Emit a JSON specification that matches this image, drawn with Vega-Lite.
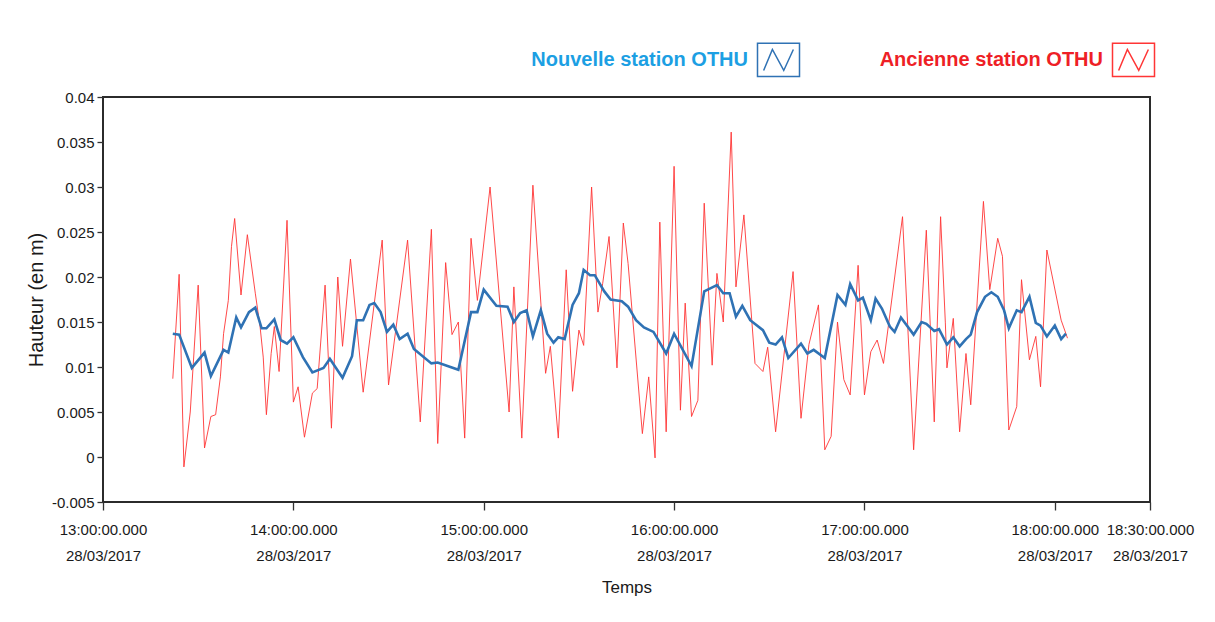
{
  "$schema": "https://vega.github.io/schema/vega-lite/v6.json",
  "width": 1047,
  "height": 405,
  "autosize": {"type": "none"},
  "padding": {"left": 103, "top": 97, "right": 65, "bottom": 120},
  "background": "white",
  "config": {
    "view": {"stroke": "#2b2b2b", "strokeWidth": 2},
    "font": "Liberation Sans, sans-serif"
  },
  "datasets": {
    "ancienne": [
      {"t": "2017-03-28T13:22:00Z", "s": "Ancienne station OTHU", "h": 0.0087},
      {"t": "2017-03-28T13:24:00Z", "s": "Ancienne station OTHU", "h": 0.0203},
      {"t": "2017-03-28T13:25:30Z", "s": "Ancienne station OTHU", "h": -0.0011},
      {"t": "2017-03-28T13:27:30Z", "s": "Ancienne station OTHU", "h": 0.005},
      {"t": "2017-03-28T13:30:00Z", "s": "Ancienne station OTHU", "h": 0.0191},
      {"t": "2017-03-28T13:32:00Z", "s": "Ancienne station OTHU", "h": 0.001},
      {"t": "2017-03-28T13:34:00Z", "s": "Ancienne station OTHU", "h": 0.0045},
      {"t": "2017-03-28T13:35:30Z", "s": "Ancienne station OTHU", "h": 0.0047},
      {"t": "2017-03-28T13:37:00Z", "s": "Ancienne station OTHU", "h": 0.0089},
      {"t": "2017-03-28T13:38:00Z", "s": "Ancienne station OTHU", "h": 0.0137},
      {"t": "2017-03-28T13:39:30Z", "s": "Ancienne station OTHU", "h": 0.0174},
      {"t": "2017-03-28T13:40:30Z", "s": "Ancienne station OTHU", "h": 0.0234},
      {"t": "2017-03-28T13:41:30Z", "s": "Ancienne station OTHU", "h": 0.0265},
      {"t": "2017-03-28T13:43:30Z", "s": "Ancienne station OTHU", "h": 0.018},
      {"t": "2017-03-28T13:45:30Z", "s": "Ancienne station OTHU", "h": 0.0247},
      {"t": "2017-03-28T13:48:00Z", "s": "Ancienne station OTHU", "h": 0.0182},
      {"t": "2017-03-28T13:49:30Z", "s": "Ancienne station OTHU", "h": 0.0145},
      {"t": "2017-03-28T13:50:30Z", "s": "Ancienne station OTHU", "h": 0.0111},
      {"t": "2017-03-28T13:51:30Z", "s": "Ancienne station OTHU", "h": 0.0047},
      {"t": "2017-03-28T13:53:00Z", "s": "Ancienne station OTHU", "h": 0.0115},
      {"t": "2017-03-28T13:54:00Z", "s": "Ancienne station OTHU", "h": 0.0145},
      {"t": "2017-03-28T13:55:30Z", "s": "Ancienne station OTHU", "h": 0.0095},
      {"t": "2017-03-28T13:58:00Z", "s": "Ancienne station OTHU", "h": 0.0263},
      {"t": "2017-03-28T14:00:00Z", "s": "Ancienne station OTHU", "h": 0.0061},
      {"t": "2017-03-28T14:01:30Z", "s": "Ancienne station OTHU", "h": 0.0078},
      {"t": "2017-03-28T14:03:30Z", "s": "Ancienne station OTHU", "h": 0.0022},
      {"t": "2017-03-28T14:06:00Z", "s": "Ancienne station OTHU", "h": 0.0071},
      {"t": "2017-03-28T14:07:30Z", "s": "Ancienne station OTHU", "h": 0.0076},
      {"t": "2017-03-28T14:10:00Z", "s": "Ancienne station OTHU", "h": 0.0191},
      {"t": "2017-03-28T14:12:00Z", "s": "Ancienne station OTHU", "h": 0.0032},
      {"t": "2017-03-28T14:14:00Z", "s": "Ancienne station OTHU", "h": 0.02},
      {"t": "2017-03-28T14:15:30Z", "s": "Ancienne station OTHU", "h": 0.0123},
      {"t": "2017-03-28T14:18:00Z", "s": "Ancienne station OTHU", "h": 0.022},
      {"t": "2017-03-28T14:22:00Z", "s": "Ancienne station OTHU", "h": 0.0072},
      {"t": "2017-03-28T14:28:00Z", "s": "Ancienne station OTHU", "h": 0.0241},
      {"t": "2017-03-28T14:30:00Z", "s": "Ancienne station OTHU", "h": 0.008},
      {"t": "2017-03-28T14:36:00Z", "s": "Ancienne station OTHU", "h": 0.0241},
      {"t": "2017-03-28T14:40:00Z", "s": "Ancienne station OTHU", "h": 0.0039},
      {"t": "2017-03-28T14:43:30Z", "s": "Ancienne station OTHU", "h": 0.0253},
      {"t": "2017-03-28T14:45:30Z", "s": "Ancienne station OTHU", "h": 0.0015},
      {"t": "2017-03-28T14:48:00Z", "s": "Ancienne station OTHU", "h": 0.0216},
      {"t": "2017-03-28T14:50:00Z", "s": "Ancienne station OTHU", "h": 0.0136},
      {"t": "2017-03-28T14:52:00Z", "s": "Ancienne station OTHU", "h": 0.015},
      {"t": "2017-03-28T14:54:00Z", "s": "Ancienne station OTHU", "h": 0.0021},
      {"t": "2017-03-28T14:56:00Z", "s": "Ancienne station OTHU", "h": 0.0243},
      {"t": "2017-03-28T14:58:00Z", "s": "Ancienne station OTHU", "h": 0.0174},
      {"t": "2017-03-28T15:02:00Z", "s": "Ancienne station OTHU", "h": 0.03},
      {"t": "2017-03-28T15:08:00Z", "s": "Ancienne station OTHU", "h": 0.005},
      {"t": "2017-03-28T15:09:30Z", "s": "Ancienne station OTHU", "h": 0.0189},
      {"t": "2017-03-28T15:12:00Z", "s": "Ancienne station OTHU", "h": 0.0021},
      {"t": "2017-03-28T15:15:30Z", "s": "Ancienne station OTHU", "h": 0.0302},
      {"t": "2017-03-28T15:19:30Z", "s": "Ancienne station OTHU", "h": 0.0093},
      {"t": "2017-03-28T15:21:00Z", "s": "Ancienne station OTHU", "h": 0.0123},
      {"t": "2017-03-28T15:23:30Z", "s": "Ancienne station OTHU", "h": 0.0021},
      {"t": "2017-03-28T15:26:00Z", "s": "Ancienne station OTHU", "h": 0.0208},
      {"t": "2017-03-28T15:28:00Z", "s": "Ancienne station OTHU", "h": 0.0073},
      {"t": "2017-03-28T15:30:00Z", "s": "Ancienne station OTHU", "h": 0.0141},
      {"t": "2017-03-28T15:31:30Z", "s": "Ancienne station OTHU", "h": 0.0124},
      {"t": "2017-03-28T15:34:00Z", "s": "Ancienne station OTHU", "h": 0.03},
      {"t": "2017-03-28T15:36:00Z", "s": "Ancienne station OTHU", "h": 0.0161},
      {"t": "2017-03-28T15:37:30Z", "s": "Ancienne station OTHU", "h": 0.0193},
      {"t": "2017-03-28T15:39:30Z", "s": "Ancienne station OTHU", "h": 0.0245},
      {"t": "2017-03-28T15:42:00Z", "s": "Ancienne station OTHU", "h": 0.0099},
      {"t": "2017-03-28T15:44:00Z", "s": "Ancienne station OTHU", "h": 0.026},
      {"t": "2017-03-28T15:45:30Z", "s": "Ancienne station OTHU", "h": 0.0215},
      {"t": "2017-03-28T15:50:00Z", "s": "Ancienne station OTHU", "h": 0.0026},
      {"t": "2017-03-28T15:52:00Z", "s": "Ancienne station OTHU", "h": 0.0089},
      {"t": "2017-03-28T15:54:00Z", "s": "Ancienne station OTHU", "h": -0.0001},
      {"t": "2017-03-28T15:55:30Z", "s": "Ancienne station OTHU", "h": 0.0261},
      {"t": "2017-03-28T15:57:30Z", "s": "Ancienne station OTHU", "h": 0.0028},
      {"t": "2017-03-28T16:00:00Z", "s": "Ancienne station OTHU", "h": 0.0323},
      {"t": "2017-03-28T16:02:00Z", "s": "Ancienne station OTHU", "h": 0.0052},
      {"t": "2017-03-28T16:03:30Z", "s": "Ancienne station OTHU", "h": 0.0171},
      {"t": "2017-03-28T16:05:30Z", "s": "Ancienne station OTHU", "h": 0.0045},
      {"t": "2017-03-28T16:07:30Z", "s": "Ancienne station OTHU", "h": 0.0063},
      {"t": "2017-03-28T16:09:30Z", "s": "Ancienne station OTHU", "h": 0.0282},
      {"t": "2017-03-28T16:12:00Z", "s": "Ancienne station OTHU", "h": 0.0102},
      {"t": "2017-03-28T16:13:30Z", "s": "Ancienne station OTHU", "h": 0.0204},
      {"t": "2017-03-28T16:15:30Z", "s": "Ancienne station OTHU", "h": 0.015},
      {"t": "2017-03-28T16:18:00Z", "s": "Ancienne station OTHU", "h": 0.0361},
      {"t": "2017-03-28T16:19:30Z", "s": "Ancienne station OTHU", "h": 0.0189},
      {"t": "2017-03-28T16:22:00Z", "s": "Ancienne station OTHU", "h": 0.0269},
      {"t": "2017-03-28T16:25:30Z", "s": "Ancienne station OTHU", "h": 0.0104},
      {"t": "2017-03-28T16:28:00Z", "s": "Ancienne station OTHU", "h": 0.0095},
      {"t": "2017-03-28T16:29:30Z", "s": "Ancienne station OTHU", "h": 0.0122},
      {"t": "2017-03-28T16:32:00Z", "s": "Ancienne station OTHU", "h": 0.0028},
      {"t": "2017-03-28T16:37:30Z", "s": "Ancienne station OTHU", "h": 0.0206},
      {"t": "2017-03-28T16:40:00Z", "s": "Ancienne station OTHU", "h": 0.0043},
      {"t": "2017-03-28T16:42:30Z", "s": "Ancienne station OTHU", "h": 0.0125},
      {"t": "2017-03-28T16:45:30Z", "s": "Ancienne station OTHU", "h": 0.0169},
      {"t": "2017-03-28T16:47:30Z", "s": "Ancienne station OTHU", "h": 0.0008},
      {"t": "2017-03-28T16:49:30Z", "s": "Ancienne station OTHU", "h": 0.0023},
      {"t": "2017-03-28T16:51:30Z", "s": "Ancienne station OTHU", "h": 0.015},
      {"t": "2017-03-28T16:53:30Z", "s": "Ancienne station OTHU", "h": 0.0086},
      {"t": "2017-03-28T16:55:30Z", "s": "Ancienne station OTHU", "h": 0.0069},
      {"t": "2017-03-28T16:58:00Z", "s": "Ancienne station OTHU", "h": 0.0213},
      {"t": "2017-03-28T17:00:00Z", "s": "Ancienne station OTHU", "h": 0.0069},
      {"t": "2017-03-28T17:02:00Z", "s": "Ancienne station OTHU", "h": 0.0117},
      {"t": "2017-03-28T17:04:00Z", "s": "Ancienne station OTHU", "h": 0.013},
      {"t": "2017-03-28T17:06:00Z", "s": "Ancienne station OTHU", "h": 0.0104},
      {"t": "2017-03-28T17:12:00Z", "s": "Ancienne station OTHU", "h": 0.0267},
      {"t": "2017-03-28T17:15:30Z", "s": "Ancienne station OTHU", "h": 0.0008},
      {"t": "2017-03-28T17:19:30Z", "s": "Ancienne station OTHU", "h": 0.0252},
      {"t": "2017-03-28T17:22:00Z", "s": "Ancienne station OTHU", "h": 0.0039},
      {"t": "2017-03-28T17:24:00Z", "s": "Ancienne station OTHU", "h": 0.0267},
      {"t": "2017-03-28T17:25:30Z", "s": "Ancienne station OTHU", "h": 0.0149},
      {"t": "2017-03-28T17:26:00Z", "s": "Ancienne station OTHU", "h": 0.0099},
      {"t": "2017-03-28T17:28:00Z", "s": "Ancienne station OTHU", "h": 0.0154},
      {"t": "2017-03-28T17:30:00Z", "s": "Ancienne station OTHU", "h": 0.0028},
      {"t": "2017-03-28T17:32:00Z", "s": "Ancienne station OTHU", "h": 0.0115},
      {"t": "2017-03-28T17:33:30Z", "s": "Ancienne station OTHU", "h": 0.0058},
      {"t": "2017-03-28T17:37:30Z", "s": "Ancienne station OTHU", "h": 0.0284},
      {"t": "2017-03-28T17:39:30Z", "s": "Ancienne station OTHU", "h": 0.0186},
      {"t": "2017-03-28T17:42:00Z", "s": "Ancienne station OTHU", "h": 0.0243},
      {"t": "2017-03-28T17:43:30Z", "s": "Ancienne station OTHU", "h": 0.0223},
      {"t": "2017-03-28T17:45:30Z", "s": "Ancienne station OTHU", "h": 0.003},
      {"t": "2017-03-28T17:48:00Z", "s": "Ancienne station OTHU", "h": 0.0056},
      {"t": "2017-03-28T17:49:30Z", "s": "Ancienne station OTHU", "h": 0.0197},
      {"t": "2017-03-28T17:52:00Z", "s": "Ancienne station OTHU", "h": 0.0108},
      {"t": "2017-03-28T17:54:00Z", "s": "Ancienne station OTHU", "h": 0.0134},
      {"t": "2017-03-28T17:55:30Z", "s": "Ancienne station OTHU", "h": 0.0078},
      {"t": "2017-03-28T17:57:30Z", "s": "Ancienne station OTHU", "h": 0.023},
      {"t": "2017-03-28T18:02:00Z", "s": "Ancienne station OTHU", "h": 0.0152},
      {"t": "2017-03-28T18:04:00Z", "s": "Ancienne station OTHU", "h": 0.0132}
    ],
    "nouvelle": [
      {"t": "2017-03-28T13:22:00Z", "s": "Nouvelle station OTHU", "h": 0.0137},
      {"t": "2017-03-28T13:24:00Z", "s": "Nouvelle station OTHU", "h": 0.0136},
      {"t": "2017-03-28T13:28:00Z", "s": "Nouvelle station OTHU", "h": 0.0099},
      {"t": "2017-03-28T13:32:00Z", "s": "Nouvelle station OTHU", "h": 0.0116},
      {"t": "2017-03-28T13:34:00Z", "s": "Nouvelle station OTHU", "h": 0.009},
      {"t": "2017-03-28T13:38:00Z", "s": "Nouvelle station OTHU", "h": 0.0119},
      {"t": "2017-03-28T13:39:30Z", "s": "Nouvelle station OTHU", "h": 0.0116},
      {"t": "2017-03-28T13:42:00Z", "s": "Nouvelle station OTHU", "h": 0.0155},
      {"t": "2017-03-28T13:43:30Z", "s": "Nouvelle station OTHU", "h": 0.0144},
      {"t": "2017-03-28T13:46:00Z", "s": "Nouvelle station OTHU", "h": 0.0161},
      {"t": "2017-03-28T13:48:00Z", "s": "Nouvelle station OTHU", "h": 0.0166},
      {"t": "2017-03-28T13:50:00Z", "s": "Nouvelle station OTHU", "h": 0.0143},
      {"t": "2017-03-28T13:51:30Z", "s": "Nouvelle station OTHU", "h": 0.0143},
      {"t": "2017-03-28T13:54:00Z", "s": "Nouvelle station OTHU", "h": 0.0153},
      {"t": "2017-03-28T13:56:00Z", "s": "Nouvelle station OTHU", "h": 0.013},
      {"t": "2017-03-28T13:58:00Z", "s": "Nouvelle station OTHU", "h": 0.0126},
      {"t": "2017-03-28T14:00:00Z", "s": "Nouvelle station OTHU", "h": 0.0133},
      {"t": "2017-03-28T14:03:00Z", "s": "Nouvelle station OTHU", "h": 0.0111},
      {"t": "2017-03-28T14:06:00Z", "s": "Nouvelle station OTHU", "h": 0.0094},
      {"t": "2017-03-28T14:09:30Z", "s": "Nouvelle station OTHU", "h": 0.0099},
      {"t": "2017-03-28T14:11:30Z", "s": "Nouvelle station OTHU", "h": 0.0109},
      {"t": "2017-03-28T14:15:30Z", "s": "Nouvelle station OTHU", "h": 0.0088},
      {"t": "2017-03-28T14:18:30Z", "s": "Nouvelle station OTHU", "h": 0.0112},
      {"t": "2017-03-28T14:20:00Z", "s": "Nouvelle station OTHU", "h": 0.0152},
      {"t": "2017-03-28T14:22:00Z", "s": "Nouvelle station OTHU", "h": 0.0152},
      {"t": "2017-03-28T14:24:00Z", "s": "Nouvelle station OTHU", "h": 0.0169},
      {"t": "2017-03-28T14:25:30Z", "s": "Nouvelle station OTHU", "h": 0.0171},
      {"t": "2017-03-28T14:27:30Z", "s": "Nouvelle station OTHU", "h": 0.0161},
      {"t": "2017-03-28T14:29:30Z", "s": "Nouvelle station OTHU", "h": 0.0139},
      {"t": "2017-03-28T14:31:30Z", "s": "Nouvelle station OTHU", "h": 0.0147},
      {"t": "2017-03-28T14:33:30Z", "s": "Nouvelle station OTHU", "h": 0.0131},
      {"t": "2017-03-28T14:36:00Z", "s": "Nouvelle station OTHU", "h": 0.0137},
      {"t": "2017-03-28T14:38:00Z", "s": "Nouvelle station OTHU", "h": 0.012},
      {"t": "2017-03-28T14:43:30Z", "s": "Nouvelle station OTHU", "h": 0.0104},
      {"t": "2017-03-28T14:45:30Z", "s": "Nouvelle station OTHU", "h": 0.0105},
      {"t": "2017-03-28T14:49:30Z", "s": "Nouvelle station OTHU", "h": 0.01},
      {"t": "2017-03-28T14:52:00Z", "s": "Nouvelle station OTHU", "h": 0.0097},
      {"t": "2017-03-28T14:56:00Z", "s": "Nouvelle station OTHU", "h": 0.0161},
      {"t": "2017-03-28T14:58:00Z", "s": "Nouvelle station OTHU", "h": 0.0161},
      {"t": "2017-03-28T15:00:00Z", "s": "Nouvelle station OTHU", "h": 0.0186},
      {"t": "2017-03-28T15:04:00Z", "s": "Nouvelle station OTHU", "h": 0.0168},
      {"t": "2017-03-28T15:07:30Z", "s": "Nouvelle station OTHU", "h": 0.0167},
      {"t": "2017-03-28T15:09:30Z", "s": "Nouvelle station OTHU", "h": 0.015},
      {"t": "2017-03-28T15:11:30Z", "s": "Nouvelle station OTHU", "h": 0.016},
      {"t": "2017-03-28T15:13:30Z", "s": "Nouvelle station OTHU", "h": 0.0163},
      {"t": "2017-03-28T15:15:30Z", "s": "Nouvelle station OTHU", "h": 0.0134},
      {"t": "2017-03-28T15:18:00Z", "s": "Nouvelle station OTHU", "h": 0.0163},
      {"t": "2017-03-28T15:20:00Z", "s": "Nouvelle station OTHU", "h": 0.0137},
      {"t": "2017-03-28T15:22:00Z", "s": "Nouvelle station OTHU", "h": 0.0127},
      {"t": "2017-03-28T15:23:30Z", "s": "Nouvelle station OTHU", "h": 0.0133},
      {"t": "2017-03-28T15:25:30Z", "s": "Nouvelle station OTHU", "h": 0.0131},
      {"t": "2017-03-28T15:28:00Z", "s": "Nouvelle station OTHU", "h": 0.0169},
      {"t": "2017-03-28T15:30:00Z", "s": "Nouvelle station OTHU", "h": 0.0182},
      {"t": "2017-03-28T15:31:30Z", "s": "Nouvelle station OTHU", "h": 0.0208},
      {"t": "2017-03-28T15:33:30Z", "s": "Nouvelle station OTHU", "h": 0.0202},
      {"t": "2017-03-28T15:35:00Z", "s": "Nouvelle station OTHU", "h": 0.0202},
      {"t": "2017-03-28T15:38:00Z", "s": "Nouvelle station OTHU", "h": 0.0184},
      {"t": "2017-03-28T15:40:00Z", "s": "Nouvelle station OTHU", "h": 0.0175},
      {"t": "2017-03-28T15:43:30Z", "s": "Nouvelle station OTHU", "h": 0.0173},
      {"t": "2017-03-28T15:45:30Z", "s": "Nouvelle station OTHU", "h": 0.0167},
      {"t": "2017-03-28T15:48:00Z", "s": "Nouvelle station OTHU", "h": 0.0152},
      {"t": "2017-03-28T15:50:30Z", "s": "Nouvelle station OTHU", "h": 0.0144},
      {"t": "2017-03-28T15:53:30Z", "s": "Nouvelle station OTHU", "h": 0.0139},
      {"t": "2017-03-28T15:57:30Z", "s": "Nouvelle station OTHU", "h": 0.0115},
      {"t": "2017-03-28T16:00:00Z", "s": "Nouvelle station OTHU", "h": 0.0137},
      {"t": "2017-03-28T16:05:30Z", "s": "Nouvelle station OTHU", "h": 0.0101},
      {"t": "2017-03-28T16:09:30Z", "s": "Nouvelle station OTHU", "h": 0.0184},
      {"t": "2017-03-28T16:13:30Z", "s": "Nouvelle station OTHU", "h": 0.0191},
      {"t": "2017-03-28T16:15:30Z", "s": "Nouvelle station OTHU", "h": 0.0182},
      {"t": "2017-03-28T16:17:30Z", "s": "Nouvelle station OTHU", "h": 0.0182},
      {"t": "2017-03-28T16:19:30Z", "s": "Nouvelle station OTHU", "h": 0.0156},
      {"t": "2017-03-28T16:21:30Z", "s": "Nouvelle station OTHU", "h": 0.0168},
      {"t": "2017-03-28T16:24:00Z", "s": "Nouvelle station OTHU", "h": 0.0152},
      {"t": "2017-03-28T16:28:00Z", "s": "Nouvelle station OTHU", "h": 0.0141},
      {"t": "2017-03-28T16:30:00Z", "s": "Nouvelle station OTHU", "h": 0.0127},
      {"t": "2017-03-28T16:32:00Z", "s": "Nouvelle station OTHU", "h": 0.0125},
      {"t": "2017-03-28T16:34:00Z", "s": "Nouvelle station OTHU", "h": 0.0133},
      {"t": "2017-03-28T16:36:00Z", "s": "Nouvelle station OTHU", "h": 0.011},
      {"t": "2017-03-28T16:40:00Z", "s": "Nouvelle station OTHU", "h": 0.0126},
      {"t": "2017-03-28T16:42:00Z", "s": "Nouvelle station OTHU", "h": 0.0115},
      {"t": "2017-03-28T16:44:00Z", "s": "Nouvelle station OTHU", "h": 0.0119},
      {"t": "2017-03-28T16:47:30Z", "s": "Nouvelle station OTHU", "h": 0.011},
      {"t": "2017-03-28T16:51:30Z", "s": "Nouvelle station OTHU", "h": 0.018},
      {"t": "2017-03-28T16:54:00Z", "s": "Nouvelle station OTHU", "h": 0.0169},
      {"t": "2017-03-28T16:55:30Z", "s": "Nouvelle station OTHU", "h": 0.0192},
      {"t": "2017-03-28T16:58:00Z", "s": "Nouvelle station OTHU", "h": 0.0174},
      {"t": "2017-03-28T16:59:30Z", "s": "Nouvelle station OTHU", "h": 0.0177},
      {"t": "2017-03-28T17:02:00Z", "s": "Nouvelle station OTHU", "h": 0.0152},
      {"t": "2017-03-28T17:03:30Z", "s": "Nouvelle station OTHU", "h": 0.0176},
      {"t": "2017-03-28T17:05:30Z", "s": "Nouvelle station OTHU", "h": 0.0165},
      {"t": "2017-03-28T17:08:00Z", "s": "Nouvelle station OTHU", "h": 0.0145},
      {"t": "2017-03-28T17:09:30Z", "s": "Nouvelle station OTHU", "h": 0.0139},
      {"t": "2017-03-28T17:11:30Z", "s": "Nouvelle station OTHU", "h": 0.0155},
      {"t": "2017-03-28T17:15:30Z", "s": "Nouvelle station OTHU", "h": 0.0136},
      {"t": "2017-03-28T17:18:00Z", "s": "Nouvelle station OTHU", "h": 0.015},
      {"t": "2017-03-28T17:19:30Z", "s": "Nouvelle station OTHU", "h": 0.0148},
      {"t": "2017-03-28T17:22:00Z", "s": "Nouvelle station OTHU", "h": 0.014},
      {"t": "2017-03-28T17:23:30Z", "s": "Nouvelle station OTHU", "h": 0.0142},
      {"t": "2017-03-28T17:26:00Z", "s": "Nouvelle station OTHU", "h": 0.0125},
      {"t": "2017-03-28T17:28:00Z", "s": "Nouvelle station OTHU", "h": 0.0133},
      {"t": "2017-03-28T17:30:00Z", "s": "Nouvelle station OTHU", "h": 0.0123},
      {"t": "2017-03-28T17:32:00Z", "s": "Nouvelle station OTHU", "h": 0.0131},
      {"t": "2017-03-28T17:33:30Z", "s": "Nouvelle station OTHU", "h": 0.0136},
      {"t": "2017-03-28T17:35:30Z", "s": "Nouvelle station OTHU", "h": 0.0161},
      {"t": "2017-03-28T17:38:00Z", "s": "Nouvelle station OTHU", "h": 0.0178},
      {"t": "2017-03-28T17:40:00Z", "s": "Nouvelle station OTHU", "h": 0.0183},
      {"t": "2017-03-28T17:42:00Z", "s": "Nouvelle station OTHU", "h": 0.0178},
      {"t": "2017-03-28T17:44:00Z", "s": "Nouvelle station OTHU", "h": 0.0163},
      {"t": "2017-03-28T17:45:30Z", "s": "Nouvelle station OTHU", "h": 0.0143},
      {"t": "2017-03-28T17:48:00Z", "s": "Nouvelle station OTHU", "h": 0.0163},
      {"t": "2017-03-28T17:49:30Z", "s": "Nouvelle station OTHU", "h": 0.0161},
      {"t": "2017-03-28T17:52:00Z", "s": "Nouvelle station OTHU", "h": 0.0178},
      {"t": "2017-03-28T17:54:00Z", "s": "Nouvelle station OTHU", "h": 0.0149},
      {"t": "2017-03-28T17:55:30Z", "s": "Nouvelle station OTHU", "h": 0.0146},
      {"t": "2017-03-28T17:57:30Z", "s": "Nouvelle station OTHU", "h": 0.0134},
      {"t": "2017-03-28T18:00:00Z", "s": "Nouvelle station OTHU", "h": 0.0146},
      {"t": "2017-03-28T18:02:00Z", "s": "Nouvelle station OTHU", "h": 0.0131},
      {"t": "2017-03-28T18:03:30Z", "s": "Nouvelle station OTHU", "h": 0.0137}
    ]
  },
  "encoding": {
    "x": {
      "field": "t",
      "type": "temporal",
      "title": "Temps",
      "scale": {
        "type": "utc",
        "domain": [
          {"year": 2017, "month": 3, "date": 28, "hours": 13, "minutes": 0, "utc": true},
          {"year": 2017, "month": 3, "date": 28, "hours": 18, "minutes": 30, "utc": true}
        ]
      },
      "axis": {
        "values": [
          {"year": 2017, "month": 3, "date": 28, "hours": 13, "minutes": 0, "utc": true},
          {"year": 2017, "month": 3, "date": 28, "hours": 14, "minutes": 0, "utc": true},
          {"year": 2017, "month": 3, "date": 28, "hours": 15, "minutes": 0, "utc": true},
          {"year": 2017, "month": 3, "date": 28, "hours": 16, "minutes": 0, "utc": true},
          {"year": 2017, "month": 3, "date": 28, "hours": 17, "minutes": 0, "utc": true},
          {"year": 2017, "month": 3, "date": 28, "hours": 18, "minutes": 0, "utc": true},
          {"year": 2017, "month": 3, "date": 28, "hours": 18, "minutes": 30, "utc": true}
        ],
        "labelExpr": "[utcFormat(datum.value, '%H:%M:%S.%L'), utcFormat(datum.value, '%d/%m/%Y')]",
        "labelFont": "Liberation Sans, sans-serif",
        "labelFontSize": 15,
        "labelLineHeight": 26,
        "labelColor": "#1a1a1a",
        "labelPadding": 12,
        "labelOverlap": false,
        "labelFlush": false,
        "labelBound": false,
        "domain": false,
        "grid": false,
        "ticks": true,
        "tickSize": 8,
        "tickColor": "#333333",
        "tickWidth": 1.3,
        "titleFont": "Liberation Sans, sans-serif",
        "titleFontSize": 17,
        "titleFontWeight": "normal",
        "titleColor": "#1a1a1a",
        "titlePadding": 16
      }
    },
    "y": {
      "field": "h",
      "type": "quantitative",
      "title": "Hauteur (en m)",
      "scale": {"domain": [-0.005, 0.04], "nice": false, "zero": false},
      "axis": {
        "values": [-0.005, 0, 0.005, 0.01, 0.015, 0.02, 0.025, 0.03, 0.035, 0.04],
        "labelExpr": "'' + datum.value",
        "labelFont": "Liberation Sans, sans-serif",
        "labelFontSize": 15,
        "labelColor": "#1a1a1a",
        "labelPadding": 3,
        "domain": false,
        "grid": false,
        "tickSize": 6,
        "tickColor": "#333333",
        "tickWidth": 1.3,
        "titleFont": "Liberation Sans, sans-serif",
        "titleFontSize": 20,
        "titleFontWeight": "normal",
        "titleColor": "#1a1a1a",
        "titlePadding": 5
      }
    },
    "color": {
      "field": "s",
      "type": "nominal",
      "scale": {
        "domain": ["Nouvelle station OTHU", "Ancienne station OTHU"],
        "range": ["#2f72b4", "#ff3535"]
      },
      "legend": {
        "orient": "none",
        "legendX": 657,
        "legendY": -56,
        "direction": "horizontal",
        "title": null,
        "symbolType": "M-1.2,-0.95H1.2V0.95H-1.2Z M-0.85,0.6L-0.35,-0.6L0.3,0.6L0.85,-0.6",
        "symbolSize": 1225,
        "symbolStrokeWidth": 1.5,
        "symbolFillColor": "transparent",
        "labelFont": "Liberation Sans, sans-serif",
        "labelFontSize": 20,
        "labelFontWeight": "bold",
        "labelLimit": 400,
        "columnPadding": 76,
        "encode": {
          "labels": {
            "update": {
              "fill": {"signal": "datum.value === 'Nouvelle station OTHU' ? '#1c9fe3' : '#ee1f26'"},
              "x": {"value": -12},
              "align": {"value": "right"}
            }
          }
        }
      }
    }
  },
  "layer": [
    {
      "data": {"name": "ancienne"},
      "mark": {"type": "line", "strokeWidth": 1, "opacity": 0.9}
    },
    {
      "data": {"name": "nouvelle"},
      "mark": {"type": "line", "strokeWidth": 2.6}
    }
  ]
}
